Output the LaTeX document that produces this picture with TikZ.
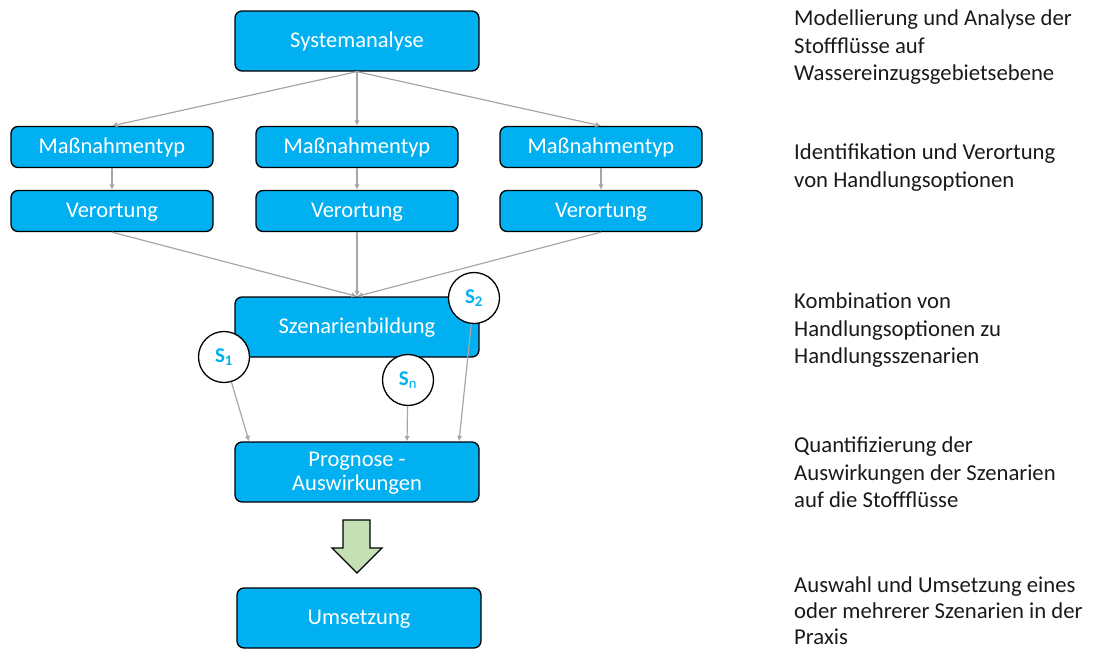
\documentclass[tikz,border=0pt]{standalone}
\usepackage{fontspec}
\setmainfont{Carlito}
\usetikzlibrary{arrows.meta,calc}
\definecolor{boxblue}{HTML}{00B0F0}
\definecolor{arrgray}{HTML}{A6A6A6}
\definecolor{arrgreen}{HTML}{C5E0B4}
\definecolor{txt}{HTML}{1A1A1A}
\begin{document}
\begin{tikzpicture}[x=1pt,y=-1pt,
  box/.style={draw=black, line width=1.3pt, fill=boxblue, rounded corners=7pt,
    text=white, inner sep=0pt, font=\fontsize{22.5}{25}\selectfont, align=center,
    text depth=2pt},
  bigbox/.style={box, minimum width=244pt, minimum height=60pt},
  smallbox/.style={box, minimum width=202pt, minimum height=41pt},
  conn/.style={draw=arrgray, line width=1.2pt, -{Latex[length=5.5pt,width=5.5pt]}},
  scen/.style={circle, draw=black, line width=1.3pt, fill=white, minimum size=51pt,
    inner sep=0pt, text=boxblue, font=\fontsize{21}{24}\selectfont\bfseries},
  desc/.style={anchor=north west, align=left, text=txt, inner sep=0pt,
    font=\fontsize{22.7}{27.3}\selectfont}]
\useasboundingbox (0,0) rectangle (1099,653);

\node[bigbox] (sys) at (357,41) {Systemanalyse};
\node[smallbox] (m1) at (112,147) {Maßnahmentyp};
\node[smallbox] (m2) at (357,147) {Maßnahmentyp};
\node[smallbox] (m3) at (601,147) {Maßnahmentyp};
\node[smallbox] (v1) at (112,211) {Verortung};
\node[smallbox] (v2) at (357,211) {Verortung};
\node[smallbox] (v3) at (601,211) {Verortung};
\node[bigbox] (sz) at (357,327) {Szenarienbildung};
\node[bigbox] (prog) at (357,472) {Prognose -\\[-1pt]Auswirkungen};
\node[bigbox] (ums) at (359,618) {Umsetzung};

\node[scen] (s1) at (224,357) {S$_{\mathbf 1}$};
\node[scen] (s2) at (474,298) {S$_{\mathbf 2}$};
\node[scen] (sn) at (408,380) {S$_{\mathrm n}$};

\draw[conn] (sys.south) -- (m1.north);
\draw[conn] (sys.south) -- (m2.north);
\draw[conn] (sys.south) -- (m3.north);
\draw[conn] (m1) -- (v1);
\draw[conn] (m2) -- (v2);
\draw[conn] (m3) -- (v3);
\draw[conn] (v1.south) -- (sz.north);
\draw[conn] (v2.south) -- (sz.north);
\draw[conn] (v3.south) -- (sz.north);

\coordinate (p1) at ($(prog.north)+(-108,0)$);
\coordinate (pn) at ($(prog.north)+(50,0)$);
\coordinate (p2) at ($(prog.north)+(102,0)$);
\draw[conn] (s1) -- (p1);
\draw[conn] (sn) -- (pn);
\draw[conn] (s2) -- (p2);

\draw[line width=1.3pt, fill=arrgreen, line join=miter]
  (343,520) -- (370,520) -- (370,548) -- (382,548) -- (357,573) -- (332,548) -- (343,548) -- cycle;

\node[desc] at (794,10) {Modellierung und Analyse der\\Stoffflüsse auf\\Wassereinzugsgebietsebene};
\node[desc] at (794,144) {Identifikation und Verortung\\von Handlungsoptionen};
\node[desc] at (794,293) {Kombination von\\Handlungsoptionen zu\\Handlungsszenarien};
\node[desc] at (794,437) {Quantifizierung der\\Auswirkungen der Szenarien\\auf die Stoffflüsse};
\node[desc, font=\fontsize{22.7}{26}\selectfont] at (794,577) {Auswahl und Umsetzung eines\\oder mehrerer Szenarien in der\\Praxis};
\end{tikzpicture}
\end{document}
